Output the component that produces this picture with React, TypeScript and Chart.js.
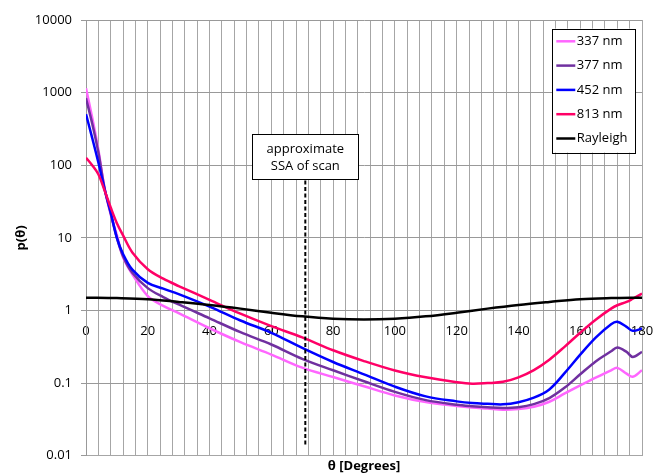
import React, { useEffect, useRef } from 'react';
import { Chart, registerables } from 'chart.js';

Chart.register(...registerables);

// ---- data ----
const angles = [0, 2, 4, 6, 8, 10, 12, 15, 20, 25, 30, 40, 50, 60, 70, 80, 90, 100, 110, 120, 125, 130, 135, 140, 145, 150, 155, 160, 165, 170, 172, 175, 177, 180];
const p337 = [1150, 453, 163, 49, 21, 10.9, 5.4, 3.15, 1.58, 1.16, 0.92, 0.569, 0.366, 0.247, 0.163, 0.121, 0.0903, 0.0676, 0.0547, 0.0483, 0.046, 0.0445, 0.043, 0.044, 0.0472, 0.0553, 0.072, 0.093, 0.119, 0.15, 0.162, 0.135, 0.122, 0.15];
const p377 = [835, 376, 151, 48, 21.7, 10, 5.6, 3.3, 2.03, 1.53, 1.21, 0.78, 0.502, 0.34, 0.216, 0.15, 0.106, 0.0758, 0.0583, 0.0503, 0.048, 0.0464, 0.0454, 0.0465, 0.0513, 0.0622, 0.0867, 0.132, 0.199, 0.274, 0.309, 0.269, 0.229, 0.269];
const p452 = [505, 238, 109, 47, 22.5, 10, 6.0, 3.65, 2.4, 2.0, 1.68, 1.13, 0.728, 0.493, 0.305, 0.195, 0.132, 0.0893, 0.0656, 0.056, 0.053, 0.0518, 0.051, 0.0546, 0.063, 0.0818, 0.138, 0.246, 0.422, 0.646, 0.697, 0.594, 0.524, 0.565];
const p813 = [127, 100, 75, 45, 26.2, 15.9, 10.8, 6.3, 3.7, 2.74, 2.17, 1.4, 0.902, 0.608, 0.425, 0.283, 0.201, 0.149, 0.12, 0.103, 0.098, 0.1, 0.104, 0.12, 0.151, 0.21, 0.318, 0.494, 0.746, 1.06, 1.18, 1.31, 1.45, 1.71];
const rayleighAngles = [0, 10, 20, 30, 40, 50, 60, 70, 80, 90, 100, 110, 120, 130, 140, 150, 160, 170, 180];
const rayleigh = [1.5, 1.48, 1.43, 1.31, 1.19, 1.06, 0.93, 0.83, 0.77, 0.75, 0.77, 0.83, 0.93, 1.06, 1.19, 1.31, 1.43, 1.48, 1.5];
const ssaAngle = 71;
const ssaRange = [0.0143, 64];
const ssaText = ['approximate', 'SSA of scan'];
const yTicks = [0.01, 0.1, 1, 10, 100, 1000, 10000];
const seriesLabels = ['337 nm', '377 nm', '452 nm', '813 nm', 'Rayleigh'];
const seriesColors = ['#FF66FF', '#7030A0', '#0000FF', '#FF0066', '#000000'];
const xTitle = 'θ [Degrees]';
const yTitle = 'p(θ)';

const FONT = "'Open Sans', 'DejaVu Sans', sans-serif";

const overlayPlugin = {
  id: 'overlay',
  afterDraw(chart: any) {
    const ctx = chart.ctx;
    const area = chart.chartArea;
    const xs = chart.scales.x;
    const ys = chart.scales.y;
    ctx.save();
    // legend box
    const lw = 83, lh = 124;
    const lx = area.right - 6.7 - lw;
    const ly = area.top + 8.6;
    ctx.fillStyle = '#ffffff';
    ctx.fillRect(lx, ly, lw, lh);
    ctx.strokeStyle = '#000000';
    ctx.lineWidth = 1;
    ctx.strokeRect(Math.round(lx) + 0.5, Math.round(ly) + 0.5, lw, lh);
    ctx.font = `13px ${FONT}`;
    ctx.textBaseline = 'middle';
    ctx.textAlign = 'left';
    seriesLabels.forEach((lab, i) => {
      const ry = ly + 12.7 + i * 24.3;
      ctx.strokeStyle = seriesColors[i];
      ctx.lineWidth = 2.5;
      ctx.beginPath();
      ctx.moveTo(lx + 4, ry);
      ctx.lineTo(lx + 23, ry);
      ctx.stroke();
      ctx.fillStyle = '#000';
      ctx.fillText(lab, lx + 24.5, ry);
    });
    // annotation box
    const cx = xs.getPixelForValue(ssaAngle);
    const by = ys.getPixelForValue(ssaRange[1]);
    const bw = 106, bh = 45;
    const bx = cx - bw / 2;
    const byTop = by - bh;
    ctx.fillStyle = '#ffffff';
    ctx.fillRect(bx, byTop, bw, bh);
    ctx.strokeStyle = '#000';
    ctx.lineWidth = 1;
    ctx.strokeRect(Math.round(bx) + 0.5, Math.round(byTop) + 0.5, bw, bh);
    ctx.fillStyle = '#000';
    ctx.textAlign = 'center';
    ssaText.forEach((t, i) => {
      ctx.fillText(t, cx, byTop + 15 + i * 17.4);
    });
    ctx.restore();
  },
};

export default function App() {
  const ref = useRef<HTMLCanvasElement | null>(null);
  useEffect(() => {
    document.body.style.margin = '0';
    const canvas = ref.current;
    if (!canvas) return;
    const series = [p337, p377, p452, p813];
    const datasets: any[] = series.map((vals, i) => ({
      label: seriesLabels[i],
      data: angles.map((a, j) => ({ x: a, y: vals[j] })),
      borderColor: seriesColors[i],
      backgroundColor: seriesColors[i],
      borderWidth: 2.5,
      pointRadius: 0,
      showLine: true,
      tension: 0.35,
      order: 5 - i,
      xAxisID: 'x',
      yAxisID: 'y',
    }));
    datasets.push({
      label: seriesLabels[4],
      data: rayleighAngles.map((a, j) => ({ x: a, y: rayleigh[j] })),
      borderColor: seriesColors[4],
      backgroundColor: seriesColors[4],
      borderWidth: 2.5,
      pointRadius: 0,
      showLine: true,
      tension: 0.35,
      order: 1,
      xAxisID: 'x',
      yAxisID: 'y',
    });
    datasets.push({
      label: 'SSA',
      data: ssaRange.map((v) => ({ x: ssaAngle, y: v })),
      borderColor: '#000',
      borderWidth: 2,
      borderDash: [4, 2.5],
      pointRadius: 0,
      showLine: true,
      order: 0,
      xAxisID: 'x',
      yAxisID: 'y',
    });

    const tickFont = { family: FONT, size: 13 };
    const chart = new Chart(canvas, {
      type: 'scatter',
      data: { datasets },
      plugins: [overlayPlugin],
      options: {
        animation: false,
        responsive: false,
        events: [],
        layout: { padding: { left: 0, right: 11, top: 20, bottom: 0 } },
        plugins: { legend: { display: false }, tooltip: { enabled: false } },
        scales: {
          x: {
            type: 'linear',
            position: 'bottom',
            min: 0,
            max: 180,
            ticks: { display: false, stepSize: 4 },
            grid: { color: '#a6a6a6', drawTicks: false },
            border: { display: true, color: '#a6a6a6' },
            title: {
              display: true,
              text: xTitle,
              color: '#000',
              font: { family: FONT, size: 13, weight: 'bold' },
              padding: { top: 0, bottom: 1 },
            },
            afterFit: (s: any) => { s.height = 19.3; s.paddingLeft = 0; s.paddingRight = 0; },
          },
          x2: {
            type: 'linear',
            axis: 'x',
            position: { y: 1 },
            min: 0,
            max: 180,
            ticks: { stepSize: 20, padding: 13, font: tickFont, color: '#000', maxRotation: 0, autoSkip: false },
            grid: { display: false, drawTicks: false },
            border: { display: false },
            afterFit: (s: any) => { s.height = 0; s.paddingLeft = 0; s.paddingRight = 0; },
          },
          y: {
            type: 'logarithmic',
            min: 0.01,
            max: 10000,
            afterBuildTicks: (s: any) => { s.ticks = yTicks.map((v) => ({ value: v })); },
            ticks: { callback: (v: any) => String(v), padding: 9, font: tickFont, color: '#000', autoSkip: false },
            grid: { color: '#999999', tickLength: 5 },
            border: { color: '#999999' },
            title: {
              display: true,
              text: yTitle,
              color: '#000',
              font: { family: FONT, size: 13, weight: 'bold' },
              padding: { top: 13, bottom: 0 },
            },
            afterFit: (s: any) => { s.width = 86; s.paddingTop = 0; s.paddingBottom = 0; },
          },
        },
      } as any,
    });
    return () => chart.destroy();
  }, []);
  return (
    <div style={{ width: 653, height: 475 }}>
      <canvas ref={ref} width={653} height={475} style={{ display: 'block' }} />
    </div>
  );
}
